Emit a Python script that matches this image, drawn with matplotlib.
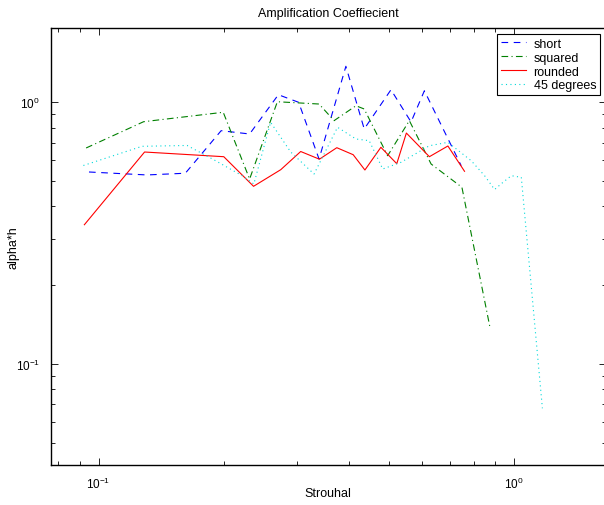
import matplotlib
matplotlib.use("Agg")
import matplotlib.pyplot as plt
from matplotlib.ticker import LogLocator, NullFormatter

plt.rcParams['font.family'] = ['Liberation Sans', 'DejaVu Sans']
plt.rcParams['mathtext.fontset'] = 'custom'
plt.rcParams['mathtext.rm'] = 'Liberation Sans'
plt.rcParams['mathtext.it'] = 'Liberation Sans:italic'
plt.rcParams['mathtext.bf'] = 'Liberation Sans:bold'

title = "Amplification Coeffiecient"
xlabel = "Strouhal"
ylabel = "alpha*h"
labels = ["short", "squared", "rounded", "45 degrees"]

short_x = [0.0948, 0.1307, 0.1617, 0.1972, 0.2309, 0.2708, 0.3030, 0.3393,
           0.3937, 0.4358, 0.5055, 0.565, 0.6083, 0.7460]
short_y = [0.5416, 0.5277, 0.5357, 0.779, 0.7567, 1.069, 1.0, 0.607,
           1.373, 0.791, 1.117, 0.841, 1.107, 0.5725]

squared_x = [0.0933, 0.1283, 0.1995, 0.2309, 0.2693, 0.3393, 0.3688, 0.4163,
             0.4358, 0.4962, 0.5597, 0.6314, 0.7490, 0.8766]
squared_y = [0.669, 0.843, 0.916, 0.509, 1.005, 0.985, 0.851, 0.970,
             0.943, 0.625, 0.851, 0.581, 0.4734, 0.136]

rounded_x = [0.0924, 0.129, 0.2001, 0.236, 0.2744, 0.3065, 0.340, 0.3744,
             0.410, 0.4375, 0.478, 0.522, 0.5505, 0.6254, 0.693, 0.7599]
rounded_y = [0.3405, 0.6457, 0.6196, 0.4775, 0.5527, 0.6486, 0.6062, 0.6707,
             0.6305, 0.5512, 0.673, 0.5826, 0.763, 0.6196, 0.6808, 0.5449]

deg45_x = [0.0919, 0.1272, 0.1633, 0.1893, 0.2216, 0.2364, 0.2594, 0.29,
           0.33, 0.3759, 0.4163, 0.448, 0.4829, 0.5343, 0.6254, 0.693,
           0.7887, 0.8493, 0.8977, 0.9406, 0.985, 1.041, 1.170]
deg45_y = [0.5735, 0.679, 0.684, 0.6034, 0.5242, 0.4874, 0.8388, 0.6457,
           0.532, 0.8027, 0.7241, 0.7134, 0.5561, 0.5898, 0.6824, 0.7032,
           0.598, 0.5242, 0.4643, 0.4946, 0.5242, 0.5169, 0.0677]

W, H = 604, 506
fig = plt.figure(figsize=(W / 100, H / 100), dpi=100)
ax = fig.add_axes([51 / W, (H - 466) / H, (605.5 - 51) / W, (466 - 29.3) / H])

lw = 0.8
ax.plot(short_x, short_y, color=(0, 0, 1), lw=lw, dashes=(6, 5), label=labels[0])
ax.plot(squared_x, squared_y, color=(0, 0.5, 0), lw=lw, dashes=(6, 3, 1, 3), label=labels[1])
ax.plot(rounded_x, rounded_y, color=(1, 0, 0), lw=lw, label=labels[2])
ax.plot(deg45_x, deg45_y, color=(0, 0.85, 0.85), lw=lw, dashes=(1, 3), label=labels[3])

ax.set_xscale('log')
ax.set_yscale('log')
ax.set_xlim(0.0768, 1.66)
ax.set_ylim(0.0411, 1.918)

ax.xaxis.set_major_locator(LogLocator(base=10, numticks=10))
ax.yaxis.set_major_locator(LogLocator(base=10, numticks=10))
ax.xaxis.set_minor_locator(LogLocator(base=10, subs=range(2, 10), numticks=20))
ax.yaxis.set_minor_locator(LogLocator(base=10, subs=range(2, 10), numticks=20))
ax.xaxis.set_minor_formatter(NullFormatter())
ax.yaxis.set_minor_formatter(NullFormatter())

ax.tick_params(which='both', direction='in', top=True, right=True,
               labelsize=8.5, width=0.6, colors='black')
ax.tick_params(which='major', length=5, pad=8)
ax.tick_params(which='minor', length=3)
for s in ax.spines.values():
    s.set_linewidth(1.0)

ax.set_title(title, fontsize=9, pad=9)
ax.set_xlabel(xlabel, fontsize=9)
ax.set_ylabel(ylabel, fontsize=9)
ax.xaxis.set_label_coords(0.5, (466 - 488) / (466 - 29.3))
ax.yaxis.set_label_coords((20 - 51) / (605.5 - 51), 0.5)

leg = ax.legend(loc='upper right', bbox_to_anchor=(600 / W, (H - 35) / H),
                bbox_transform=fig.transFigure, borderaxespad=0, fontsize=9,
                fancybox=False, framealpha=1, edgecolor='black',
                handlelength=2.0, handletextpad=0.6, labelspacing=0.15,
                borderpad=0.3)
leg.get_frame().set_linewidth(0.8)

fig.savefig("out.png", dpi=100)
